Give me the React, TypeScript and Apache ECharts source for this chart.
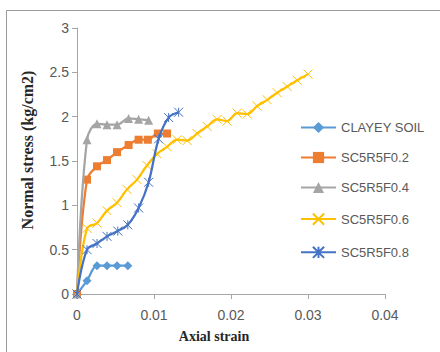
import React, { useEffect, useRef } from "react";
import * as echarts from "echarts";

const seriesNames = ["CLAYEY SOIL", "SC5R5F0.2", "SC5R5F0.4", "SC5R5F0.6", "SC5R5F0.8"];

const clayeySoil: [number, number][] = [
  [0, 0], [0.0013, 0.15], [0.0026, 0.32], [0.0039, 0.32], [0.0052, 0.32], [0.0066, 0.32],
];
const sc02: [number, number][] = [
  [0, 0], [0.0013, 1.29], [0.0026, 1.44], [0.0039, 1.51], [0.0052, 1.6], [0.0067, 1.68],
  [0.008, 1.74], [0.0092, 1.74], [0.0105, 1.81], [0.0117, 1.81],
];
const sc04: [number, number][] = [
  [0, 0], [0.0013, 1.74], [0.0026, 1.92], [0.0039, 1.91], [0.0052, 1.91], [0.0067, 1.98],
  [0.008, 1.97], [0.0093, 1.96],
];
const sc06: [number, number][] = [
  [0, 0], [0.0013, 0.74], [0.0026, 0.8], [0.0039, 0.94], [0.0052, 1.03], [0.0065, 1.18],
  [0.0078, 1.29], [0.0091, 1.45], [0.0104, 1.58], [0.0117, 1.66], [0.013, 1.74], [0.0143, 1.73],
  [0.0156, 1.81], [0.0169, 1.89], [0.0182, 1.97], [0.0195, 1.95], [0.0208, 2.04], [0.0221, 2.03],
  [0.0234, 2.12], [0.0247, 2.19], [0.026, 2.27], [0.0273, 2.34], [0.0286, 2.41], [0.03, 2.48],
];
const sc08: [number, number][] = [
  [0, 0], [0.0013, 0.5], [0.0026, 0.57], [0.0039, 0.65], [0.0053, 0.71], [0.0066, 0.78],
  [0.008, 0.97], [0.0093, 1.26], [0.0106, 1.75], [0.0119, 1.99], [0.0132, 2.05],
];

const seriesData = [clayeySoil, sc02, sc04, sc06, sc08];
const colors = ["#5B9BD5", "#ED7D31", "#A5A5A5", "#FFC000", "#4472C4"];
const symbols = [
  "diamond",
  "rect",
  "triangle",
  "path://M0,0L10,10M10,0L0,10",
  "path://M0,0L10,10M10,0L0,10M5,0L5,10",
];
const symbolSizes = [9, 8, 9, 9, 9];

const xTitle = "Axial strain";
const yTitle = "Normal stress (kg/cm2)";

export default function App() {
  const ref = useRef<HTMLDivElement>(null);
  useEffect(() => {
    if (!ref.current) return;
    const chart = echarts.init(ref.current, undefined, { renderer: "svg" });
    const series = seriesNames.map((name, i) => {
      const isPath = symbols[i].startsWith("path://");
      return {
        name,
        type: "line",
        data: seriesData[i],
        smooth: 0.35,
        symbol: symbols[i],
        symbolSize: symbolSizes[i],
        showAllSymbol: true,
        lineStyle: { color: colors[i], width: 2.25 },
        itemStyle: isPath
          ? { color: "none", borderColor: colors[i], borderWidth: 1 }
          : { color: colors[i], borderColor: colors[i], borderWidth: 0 },
        z: 2 + i,
      };
    });
    chart.setOption({
      animation: false,
      backgroundColor: "#ffffff",
      grid: { left: 77, right: 55, top: 28, bottom: 58, containLabel: false },
      xAxis: {
        type: "value",
        min: 0,
        max: 0.04,
        interval: 0.01,
        splitLine: { show: false },
        axisLine: { show: true, lineStyle: { color: "#A6A6A6", width: 1 } },
        axisTick: { show: true, length: 5, lineStyle: { color: "#A6A6A6" } },
        axisLabel: { color: "#595959", fontSize: 14, fontFamily: "Liberation Sans", margin: 14 },
      },
      yAxis: {
        type: "value",
        min: 0,
        max: 3,
        interval: 0.5,
        splitLine: { show: false },
        axisLine: { show: true, lineStyle: { color: "#A6A6A6", width: 1 } },
        axisTick: { show: true, length: 5, lineStyle: { color: "#A6A6A6" } },
        axisLabel: { color: "#595959", fontSize: 14, fontFamily: "Liberation Sans", margin: 8 },
      },
      legend: {
        orient: "vertical",
        left: 295,
        top: 116,
        itemWidth: 35,
        itemHeight: 14,
        itemGap: 17,
        textStyle: { color: "#595959", fontSize: 13, fontFamily: "Liberation Sans" },
        data: seriesNames,
      },
      graphic: [
        {
          type: "line",
          shape: { x1: 6.5, y1: 10.5, x2: 440, y2: 10.5 },
          style: { stroke: "#9A9A9A", lineWidth: 1 },
        },
        {
          type: "line",
          shape: { x1: 6.5, y1: 10.5, x2: 6.5, y2: 352 },
          style: { stroke: "#9A9A9A", lineWidth: 1 },
        },
        {
          type: "text",
          x: 214,
          y: 336,
          style: {
            text: xTitle,
            font: "bold 14px 'Liberation Serif'",
            fill: "#262626",
            align: "center",
            verticalAlign: "middle",
          },
        },
        {
          type: "text",
          x: 27,
          y: 150,
          rotation: Math.PI / 2,
          style: {
            text: yTitle,
            font: "bold 16px 'Liberation Serif'",
            fill: "#262626",
            align: "center",
            verticalAlign: "middle",
          },
        },
      ],
      series,
    });
    return () => chart.dispose();
  }, []);
  return (
    <div
      ref={ref}
      style={{ position: "fixed", left: 0, top: 0, width: 440, height: 352 }}
    />
  );
}
